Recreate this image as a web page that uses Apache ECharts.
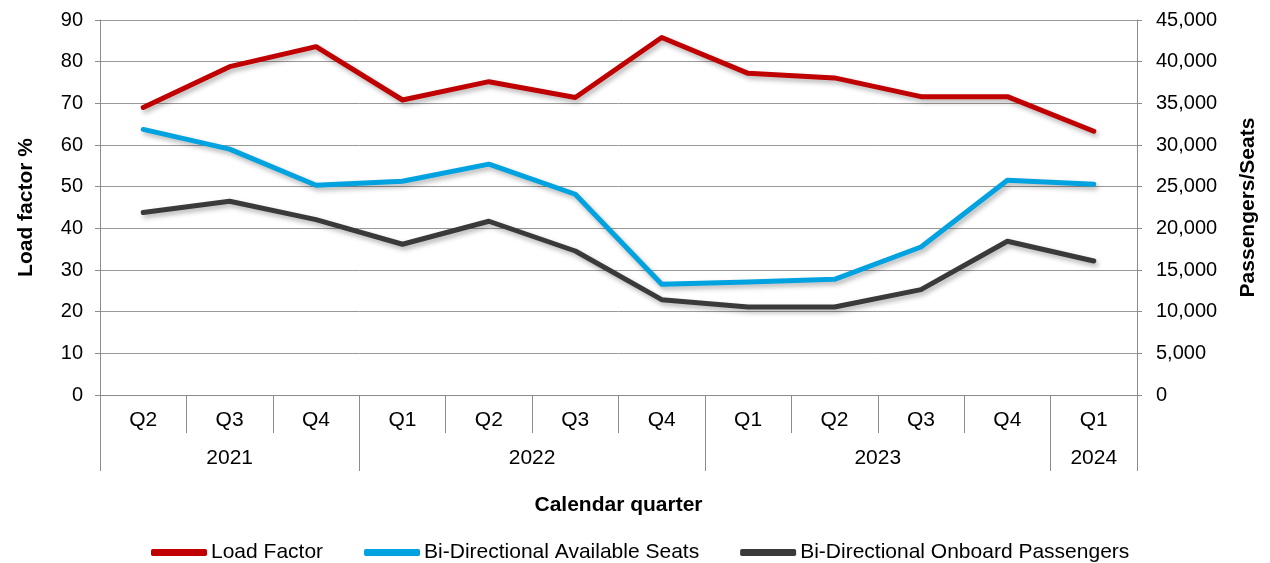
<!DOCTYPE html>
<html>
<head>
<meta charset="utf-8">
<script src="https://cdn.jsdelivr.net/npm/echarts@6/dist/echarts.min.js"></script>
<style>
  html, body { margin: 0; padding: 0; background: #fff; }
  #chart { width: 1270px; height: 563px; }
</style>
</head>
<body>
<div id="chart"></div>
<script>
const quarters = ['Q2', 'Q3', 'Q4', 'Q1', 'Q2', 'Q3', 'Q4', 'Q1', 'Q2', 'Q3', 'Q4', 'Q1'];
const years = ['2021', '2022', '2023', '2024'];
const yearSpans = [3, 4, 4, 1];

const loadFactor = [69.0, 78.8, 83.6, 70.8, 75.2, 71.4, 85.8, 77.2, 76.1, 71.6, 71.6, 63.3];
const seats = [31870, 29500, 25170, 25650, 27700, 24090, 13280, 13560, 13880, 17760, 25770, 25290];
const passengers = [21890, 23250, 21050, 18090, 20850, 17280, 11440, 10560, 10560, 12650, 18450, 16080];

// year group boundaries and label centres, in quarter units
const yearBounds = [0];
const yearCentres = [];
const yearByCentre = {};
let acc = 0;
yearSpans.forEach((n, i) => {
  yearCentres.push(acc + n / 2);
  yearByCentre[acc + n / 2] = years[i];
  acc += n;
  yearBounds.push(acc);
});

const FONT = '"Liberation Sans", Arial, sans-serif';
const AXIS_GRAY = '#8c8c8c';

const chart = echarts.init(document.getElementById('chart'));

const lineShadow = {
  shadowColor: 'rgba(0,0,0,0.3)',
  shadowBlur: 5,
  shadowOffsetX: 2,
  shadowOffsetY: 3
};

const option = {
  animation: false,
  textStyle: { fontFamily: FONT },
  grid: { left: 100, right: 133, top: 20, bottom: 168 },
  legend: {
    left: 146,
    top: 537,
    itemWidth: 56,
    itemHeight: 7,
    itemGap: 41,
    icon: 'roundRect',
    textStyle: { fontSize: 21, color: '#000', padding: [0, 0, 0, -1] },
    data: ['Load Factor', 'Bi-Directional Available Seats', 'Bi-Directional Onboard Passengers']
  },
  xAxis: [
    {
      type: 'category',
      data: quarters,
      boundaryGap: true,
      axisLine: { show: true, onZero: false, lineStyle: { color: AXIS_GRAY } },
      axisTick: { show: true, length: 38, interval: 0, lineStyle: { color: AXIS_GRAY } },
      axisLabel: { fontSize: 21, color: '#000', margin: 15, interval: 0 }
    },
    {
      // second level: years, with separators at the year boundaries
      type: 'value',
      position: 'bottom',
      offset: 38,
      min: 0,
      max: quarters.length,
      axisLine: { show: true, onZero: false, lineStyle: { color: 'rgba(0,0,0,0)' } },
      splitLine: { show: false },
      axisTick: {
        show: true,
        length: 38,
        customValues: yearBounds,
        lineStyle: { color: AXIS_GRAY }
      },
      axisLabel: {
        fontSize: 21,
        color: '#000',
        margin: 15,
        customValues: yearCentres,
        formatter: v => yearByCentre[v] || ''
      },
      name: 'Calendar quarter',
      nameLocation: 'middle',
      nameGap: 62,
      nameTextStyle: { fontSize: 21, fontWeight: 'bold', color: '#000' }
    }
  ],
  yAxis: [
    {
      type: 'value',
      min: 0,
      max: 90,
      interval: 10,
      name: 'Load factor %',
      nameLocation: 'middle',
      nameGap: 63,
      nameRotate: 90,
      nameTextStyle: { fontSize: 21, fontWeight: 'bold', color: '#000' },
      axisLine: { show: true, lineStyle: { color: AXIS_GRAY } },
      axisTick: { show: true, length: 5, lineStyle: { color: AXIS_GRAY } },
      axisLabel: { fontSize: 20, color: '#000', margin: 17 },
      splitLine: { lineStyle: { color: '#999', width: 1 } }
    },
    {
      type: 'value',
      position: 'right',
      min: 0,
      max: 45000,
      interval: 5000,
      name: 'Passengers/Seats',
      nameLocation: 'middle',
      nameGap: 101,
      nameRotate: 90,
      nameTextStyle: { fontSize: 21, fontWeight: 'bold', color: '#000' },
      axisLine: { show: true, lineStyle: { color: AXIS_GRAY } },
      axisTick: { show: true, length: 5, lineStyle: { color: AXIS_GRAY } },
      axisLabel: {
        fontSize: 20,
        color: '#000',
        margin: 19,
        formatter: v => v.toLocaleString('en-US')
      },
      splitLine: { show: false }
    }
  ],
  series: [
    {
      name: 'Load Factor',
      type: 'line',
      xAxisIndex: 0,
      yAxisIndex: 0,
      data: loadFactor,
      showSymbol: false,
      color: '#c00000',
      lineStyle: Object.assign({ width: 5, cap: 'round', join: 'round' }, lineShadow)
    },
    {
      name: 'Bi-Directional Available Seats',
      type: 'line',
      xAxisIndex: 0,
      yAxisIndex: 1,
      data: seats,
      showSymbol: false,
      color: '#00a3e0',
      lineStyle: Object.assign({ width: 5, cap: 'round', join: 'round' }, lineShadow)
    },
    {
      name: 'Bi-Directional Onboard Passengers',
      type: 'line',
      xAxisIndex: 0,
      yAxisIndex: 1,
      data: passengers,
      showSymbol: false,
      color: '#3a3a3a',
      lineStyle: Object.assign({ width: 5, cap: 'round', join: 'round' }, lineShadow)
    }
  ]
};

chart.setOption(option);
</script>
</body>
</html>
